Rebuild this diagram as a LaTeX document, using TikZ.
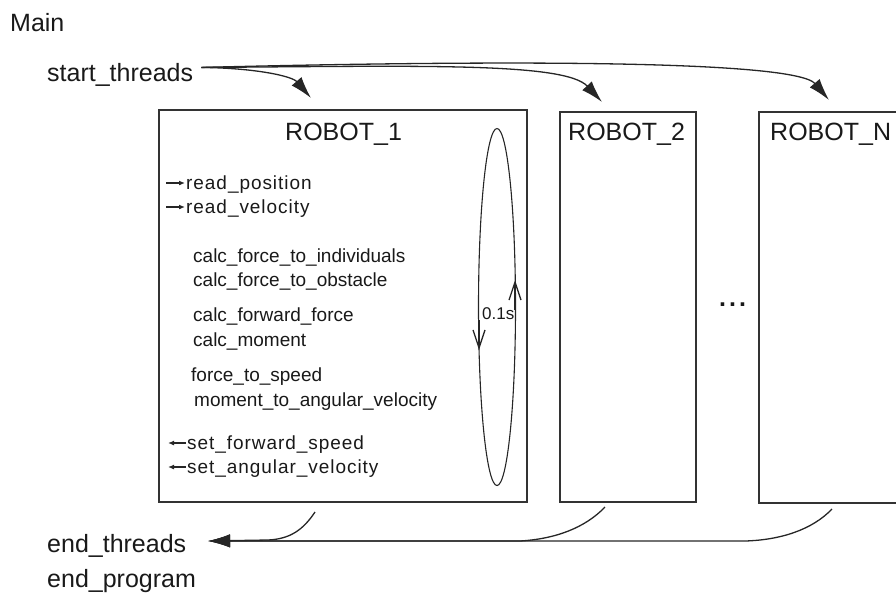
\documentclass[tikz,border=0pt]{standalone}
\usepackage{fontspec}
\setmainfont{Liberation Sans}
\usetikzlibrary{arrows.meta,shapes.geometric}
\tikzset{
  big/.style={inner sep=0pt, anchor=base west, font=\fontsize{25}{30}\selectfont, text=black!90},
  small/.style={inner sep=0pt, anchor=base west, font=\fontsize{19}{23}\selectfont, text=black!90},
  spaced/.style={small, font=\fontsize{19}{23}\selectfont\addfontfeature{LetterSpace=5}},
  robotbox/.style={draw=black!80, line width=1.3pt, inner sep=0pt, outer sep=0pt},
  conn/.style={draw=black!85, line width=1.3pt},
  bigtip/.style={-{Latex[length=22pt,width=13pt]}},
  smalltip/.style={-{Latex[length=6pt,width=5pt]}, line width=1.2pt, black!85},
  looptip/.style={-{Straight Barb[length=18pt,width=12pt]}, line width=1.3pt, black!85},
}
\begin{document}
\begin{tikzpicture}[x=1pt,y=-1pt]
\useasboundingbox (0,0) rectangle (896,595);

% labels of Main
\node[big] (main) at (10,31) {Main};
\node[big] (st) at (47,81) {start\_threads};
\node[big] (et) at (47,552) {end\_threads};
\node[big] (ep) at (47,587) {end\_program};

% robot boxes
\node[robotbox, minimum width=368pt, minimum height=392pt] (r1) at (343,306) {};
\node[robotbox, minimum width=136pt, minimum height=390pt] (r2) at (628,307) {};
\node[robotbox, minimum width=160pt, minimum height=391pt] (rn) at (839,307.5) {};

\node[big] (r1l) at (285,140) {ROBOT\_1};
\node[big] (r2l) at (568,140) {ROBOT\_2};
\node[big] (rnl) at (770,140) {ROBOT\_N};

\node[big, font=\fontsize{25}{30}\selectfont\bfseries\addfontfeature{LetterSpace=12}] (dots) at (719,306) {...};

% inner texts
\node[spaced] (rp) at (186,189) {read\_position};
\node[spaced] (rv) at (186,213) {read\_velocity};
\node[small] (c1) at (193,262) {calc\_force\_to\_individuals};
\node[small] (c2) at (193,286) {calc\_force\_to\_obstacle};
\node[small] (c3) at (193,321) {calc\_forward\_force};
\node[small] (c4) at (193,346) {calc\_moment};
\node[small] (c5) at (191,381) {force\_to\_speed};
\node[small] (c6) at (194,406) {moment\_to\_angular\_velocity};
\node[spaced] (sf) at (187,449) {set\_forward\_speed};
\node[spaced] (sa) at (187,473) {set\_angular\_velocity};

% small arrows
\coordinate (rpa) at (166,183);
\coordinate (rva) at (166,207);
\coordinate (sfa) at (168,443);
\coordinate (saa) at (168,467);
\draw[smalltip] (rpa) -- ([xshift=-1pt]rpa -| rp.west);
\draw[smalltip] (rva) -- ([xshift=-1pt]rva -| rv.west);
\draw[smalltip] ([xshift=-1pt]sfa -| sf.west) -- (sfa);
\draw[smalltip] ([xshift=-1pt]saa -| sa.west) -- (saa);

% loop ellipse
\node[draw=black!85, line width=1.1pt, ellipse, inner sep=0pt, minimum width=37pt, minimum height=357pt] (loop) at (497,307) {};
\coordinate (ld1) at (479,320);
\coordinate (ld2) at (479,350);
\coordinate (lu1) at (515,310);
\coordinate (lu2) at (515,280);
\draw[looptip] (ld1) -- (ld2);
\draw[looptip] (lu1) -- (lu2);
\node[inner sep=0pt, anchor=base west, font=\fontsize{17}{20}\selectfont, text=black!90] (ts) at (482,319) {0.1s};

% start connectors
\coordinate (s0) at ([xshift=8pt,yshift=7pt]st.east);
\coordinate (t1) at (311,98);
\coordinate (t2) at (602,102);
\coordinate (tn) at (829,100);
\draw[conn, bigtip] (s0) .. controls (255,68) and (292,76) .. (t1);
\draw[conn, bigtip] (s0) .. controls (420,66) and (565,62) .. (t2);
\draw[conn, bigtip] (s0) .. controls (500,60) and (795,60) .. (tn);

% end connectors
\coordinate (e0) at (208,541);
\coordinate (b1) at (315,512);
\coordinate (b2) at (605,507);
\coordinate (bn) at (832,509);
\coordinate (j1) at (268,540);
\coordinate (j2) at (520,541);
\coordinate (jn) at (745,541);
\draw[conn, bigtip] (b1) .. controls (303,530) and (290,539) .. (j1) -- (e0);
\draw[conn, bigtip] (b2) .. controls (585,528) and (555,539) .. (j2) -- (e0);
\draw[conn, bigtip] (bn) .. controls (812,530) and (780,540) .. (jn) -- (e0);
\end{tikzpicture}
\end{document}
